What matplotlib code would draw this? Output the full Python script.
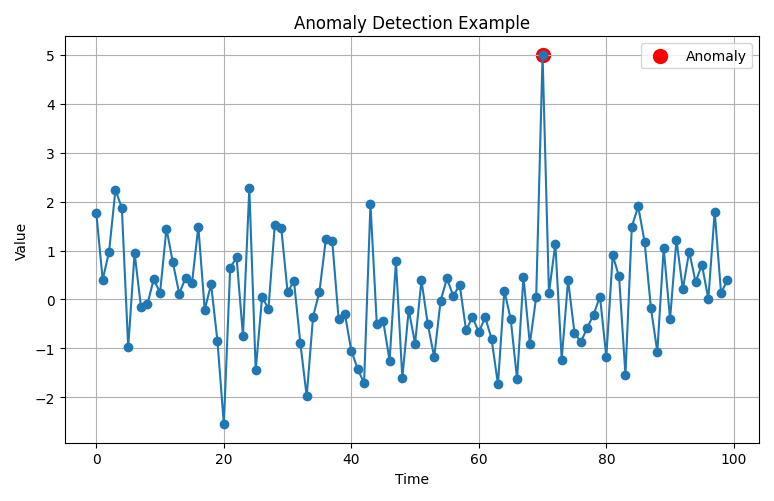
import matplotlib
matplotlib.use("Agg")
import matplotlib.pyplot as plt

values = [1.76, 0.40, 0.98, 2.24, 1.87, -0.98, 0.95, -0.15, -0.10, 0.41,
          0.14, 1.45, 0.76, 0.12, 0.44, 0.33, 1.49, -0.21, 0.31, -0.85,
          -2.55, 0.65, 0.86, -0.74, 2.27, -1.45, 0.05, -0.19, 1.53, 1.47,
          0.15, 0.38, -0.89, -1.98, -0.35, 0.16, 1.23, 1.20, -0.39, -0.30,
          -1.05, -1.42, -1.71, 1.95, -0.51, -0.44, -1.25, 0.78, -1.61, -0.21,
          -0.90, 0.39, -0.51, -1.18, -0.03, 0.43, 0.07, 0.30, -0.63, -0.36,
          -0.67, -0.36, -0.81, -1.73, 0.18, -0.40, -1.63, 0.46, -0.91, 0.05,
          5.00, 0.13, 1.14, -1.23, 0.40, -0.68, -0.87, -0.58, -0.31, 0.06,
          -1.17, 0.90, 0.47, -1.54, 1.49, 1.90, 1.18, -0.18, -1.07, 1.05,
          -0.40, 1.22, 0.21, 0.98, 0.36, 0.71, 0.01, 1.79, 0.13, 0.40]
time = list(range(len(values)))
anomaly_idx = [70]

fig, ax = plt.subplots(figsize=(7.74, 5.02), dpi=100)
ax.scatter([time[i] for i in anomaly_idx], [values[i] for i in anomaly_idx],
           color='red', s=100, label='Anomaly', zorder=1.5)
ax.plot(time, values, marker='o', color='#1f77b4', zorder=2)
ax.set_title('Anomaly Detection Example')
ax.set_xlabel('Time')
ax.set_ylabel('Value')
ax.grid(True)
ax.legend(loc='upper right')
fig.tight_layout()
fig.savefig('out.png', dpi=100)
